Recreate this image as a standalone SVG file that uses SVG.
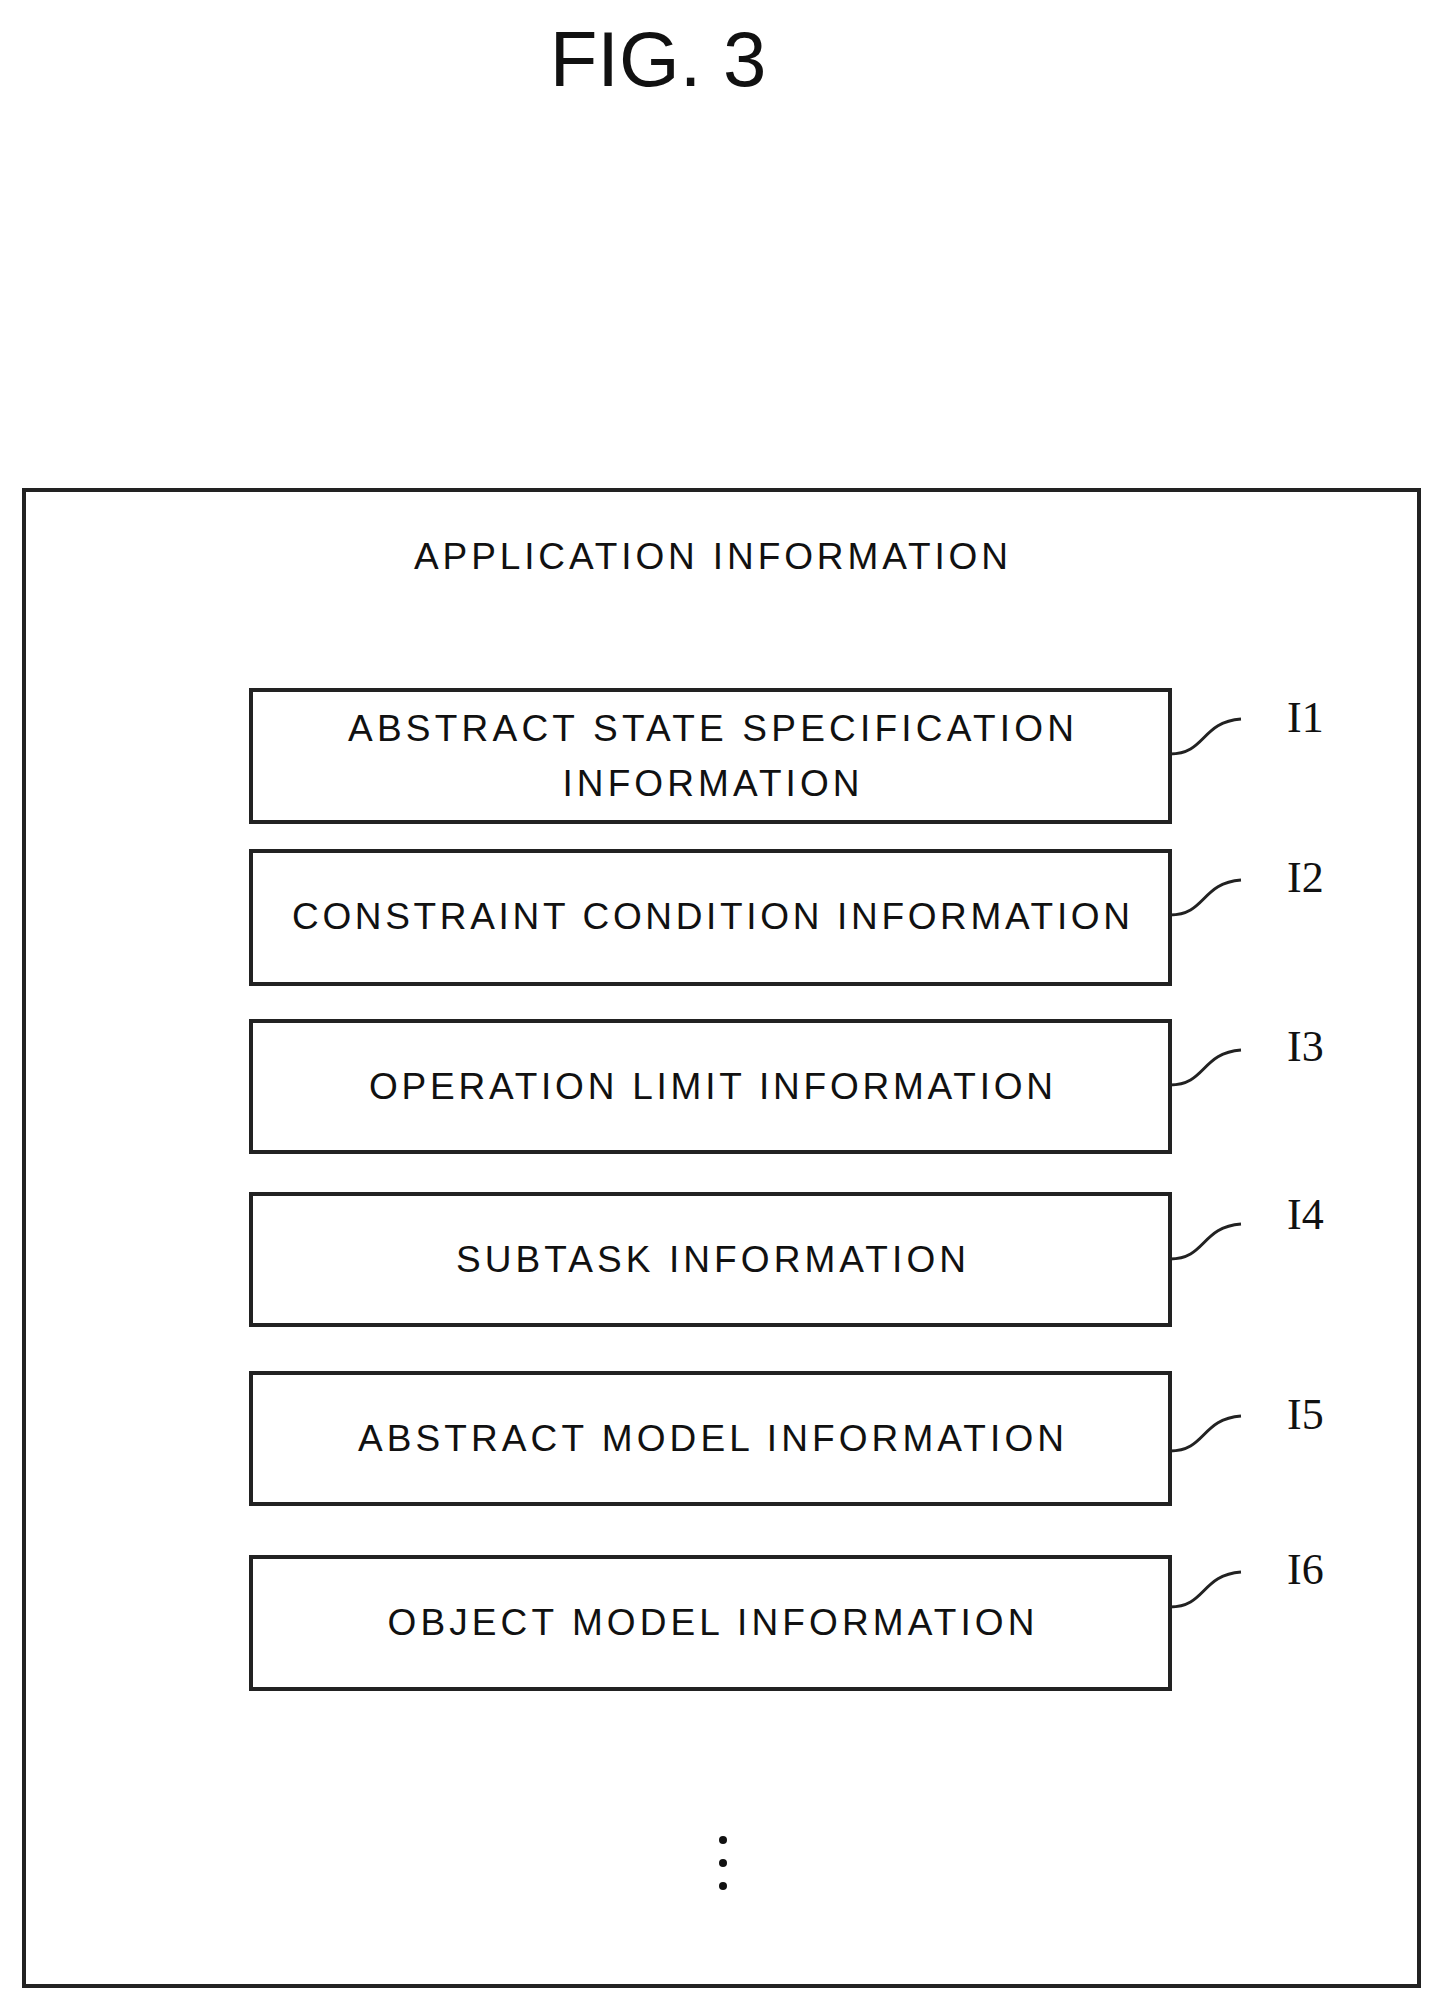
<svg xmlns="http://www.w3.org/2000/svg" width="1442" height="2013" viewBox="0 0 1442 2013">
<style>
text{font-family:"Liberation Sans",Arial,sans-serif;fill:#111;}
.t{font-size:37px;text-anchor:middle;dominant-baseline:central;}
.box{fill:#fff;stroke:#222;stroke-width:4;}
.ld{fill:none;stroke:#222;stroke-width:3;}
.lb{font-family:"Liberation Serif",serif;font-size:44px;}
</style>
<rect width="1442" height="2013" fill="#fff"/>
<text x="658" y="86" font-size="78" text-anchor="middle">FIG. 3</text>
<g id="outer">
<rect class="box" x="24" y="490" width="1395" height="1496"/>
<text class="t" x="711" y="556" textLength="594">APPLICATION INFORMATION</text>
</g>
<g id="n1"><rect class="box" x="251" y="690" width="919" height="132"/>
<text class="t" x="711" y="728" textLength="726">ABSTRACT STATE SPECIFICATION</text>
<text class="t" x="711" y="783" textLength="297">INFORMATION</text></g>
<g id="n2"><rect class="box" x="251" y="851" width="919" height="133"/>
<text class="t" x="711" y="916" textLength="838">CONSTRAINT CONDITION INFORMATION</text></g>
<g id="n3"><rect class="box" x="251" y="1021" width="919" height="131"/>
<text class="t" x="711" y="1086" textLength="684">OPERATION LIMIT INFORMATION</text></g>
<g id="n4"><rect class="box" x="251" y="1194" width="919" height="131"/>
<text class="t" x="711" y="1259" textLength="510">SUBTASK INFORMATION</text></g>
<g id="n5"><rect class="box" x="251" y="1373" width="919" height="131"/>
<text class="t" x="711" y="1438" textLength="706">ABSTRACT MODEL INFORMATION</text></g>
<g id="n6"><rect class="box" x="251" y="1557" width="919" height="132"/>
<text class="t" x="711" y="1622" textLength="647">OBJECT MODEL INFORMATION</text></g>
<g id="connectors">
<path class="ld" d="M1170 754 C1206 754 1201 722 1241 719"/>
<path class="ld" d="M1170 915 C1206 915 1201 883 1241 880"/>
<path class="ld" d="M1170 1085 C1206 1085 1201 1053 1241 1050"/>
<path class="ld" d="M1170 1259 C1206 1259 1201 1227 1241 1224"/>
<path class="ld" d="M1170 1451 C1206 1451 1201 1419 1241 1416"/>
<path class="ld" d="M1170 1607 C1206 1607 1201 1575 1241 1572"/>
</g>
<g id="labels">
<text class="lb" x="1287" y="732">I1</text>
<text class="lb" x="1287" y="892">I2</text>
<text class="lb" x="1287" y="1061">I3</text>
<text class="lb" x="1287" y="1229">I4</text>
<text class="lb" x="1287" y="1429">I5</text>
<text class="lb" x="1287" y="1584">I6</text>
</g>
<g id="dots" fill="#111">
<circle cx="723" cy="1840" r="4"/><circle cx="723" cy="1863" r="4"/><circle cx="723" cy="1886" r="4"/>
</g>
</svg>
